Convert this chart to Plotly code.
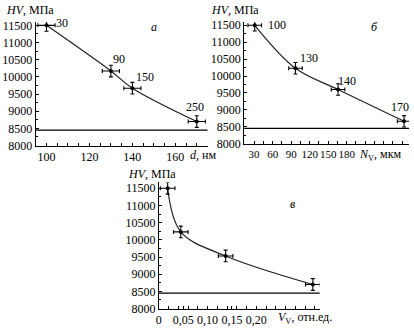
import plotly.graph_objects as go

# --- data -------------------------------------------------------------
# panel а: hardness vs grain size d (nm)
d_nm = [100, 130, 140, 170]
hv_a = [11500, 10170, 9670, 8700]
lbl_a = ["30", "90", "150", "250"]
dx_a = [4, 4, 4, 4]

# panel б: hardness vs N_V (mkm)
n_v = [31, 97, 166, 273]
hv_b = [11500, 10230, 9600, 8660]
lbl_b = ["100", "130", "140", "170"]
dx_b = [11, 11, 11, 11]

# panel в: hardness vs volume fraction V_V
v_v = [0.018, 0.045, 0.137, 0.316]
hv_c = [11500, 10230, 9530, 8700]
dx_c = [0.015, 0.015, 0.015, 0.015]

dy = [170, 170, 170, 170]
hv_base = 8450

y_ticks = [8000, 8500, 9000, 9500, 10000, 10500, 11000, 11500]
xa_ticks = [100, 120, 140, 160]
xb_ticks = [30, 60, 90, 120, 150, 180]
xc_ticks = [0, 0.05, 0.10, 0.15, 0.20]
xc_text = ["0", "0,05", "0,10", "0,15", "0,20"]

FONT = "Liberation Serif, Times New Roman, serif"
W, H = 414, 333

fig = go.Figure()


def add_panel(xs, ys, dxs, xa, ya):
    fig.add_trace(go.Scatter(
        x=xs, y=ys, mode="lines", line=dict(color="#222", width=1.2, shape="spline", smoothing=1.0),
        xaxis=xa, yaxis=ya, showlegend=False, hoverinfo="skip"))
    fig.add_trace(go.Scatter(
        x=xs, y=ys, mode="markers", marker=dict(color="black", size=4),
        error_x=dict(type="data", array=dxs, color="black", thickness=1.1, width=2),
        error_y=dict(type="data", array=dy, color="black", thickness=1.1, width=2),
        xaxis=xa, yaxis=ya, showlegend=False))


add_panel(d_nm, hv_a, dx_a, "x", "y")
add_panel(n_v, hv_b, dx_b, "x2", "y2")
add_panel(v_v, hv_c, dx_c, "x3", "y3")

axis_common = dict(showline=True, linecolor="black", linewidth=1, ticks="inside",
                   ticklen=3, tickcolor="black", showgrid=False, zeroline=False,
                   tickangle=0, tickfont=dict(family=FONT, size=12, color="black"))


def xaxis(domain, rng, tickvals, ticktext, minor_dtick, anchor, size=12):
    return dict(axis_common, domain=domain, range=rng, tickmode="array",
                tickvals=tickvals, ticktext=ticktext, anchor=anchor,
                tickfont=dict(family=FONT, size=size, color="black"),
                minor=dict(dtick=minor_dtick, tick0=0, ticks="inside", ticklen=3,
                           tickcolor="black", showgrid=False))


def yaxis(domain, rng, anchor):
    return dict(axis_common, domain=domain, range=rng, tickmode="array",
                tickvals=y_ticks, ticktext=[str(v) for v in y_ticks], anchor=anchor,
                minor=dict(dtick=250, tick0=0, ticks="inside", ticklen=2,
                           tickcolor="black", showgrid=False))


fig.update_layout(
    width=W, height=H, margin=dict(l=0, r=0, t=0, b=0),
    paper_bgcolor="white", plot_bgcolor="white",
    font=dict(family=FONT, size=12, color="black"),
    xaxis=xaxis([33 / W, 206 / W], [95, 175], xa_ticks, [str(v) for v in xa_ticks], 5, "y"),
    yaxis=yaxis([1 - 147 / H, 1 - 19.5 / H], [8000, 11600], "x"),
    xaxis2=xaxis([243 / W, 409 / W], [14, 281], xb_ticks, [str(v) for v in xb_ticks], 15, "y2", 11),
    yaxis2=yaxis([1 - 145 / H, 1 - 19.5 / H], [8000, 11600], "x2"),
    xaxis3=xaxis([157 / W, 319 / W], [0, 0.33], xc_ticks, xc_text, 0.02, "y3"),
    yaxis3=yaxis([1 - 315 / H, 1 - 185 / H], [8000, 11670], "x3"),
)

# baseline hardness level in each panel
for xr, yr in (("x", "y"), ("x2", "y2"), ("x3", "y3")):
    fig.add_shape(type="line", xref=f"{xr} domain", yref=yr, x0=0, x1=1,
                  y0=hv_base, y1=hv_base, line=dict(color="black", width=1.2))

ann = []
txt_font = dict(family=FONT, size=12, color="black")

# point labels
for x, y, t, sx, sy in zip(d_nm, hv_a, lbl_a, [16, 8, 13, -2], [2, 12, 11, 15]):
    ann.append(dict(x=x, y=y, xref="x", yref="y", text=t, showarrow=False,
                    xshift=sx, yshift=sy, font=txt_font))
for x, y, t, sx, sy in zip(n_v, hv_b, lbl_b, [22, 14, 9, -4], [0, 10, 9, 14]):
    ann.append(dict(x=x, y=y, xref="x2", yref="y2", text=t, showarrow=False,
                    xshift=sx, yshift=sy, font=txt_font))


def paper_text(px, py, text, anchor="left"):
    ann.append(dict(x=px / W, y=1 - py / H, xref="paper", yref="paper", text=text,
                    showarrow=False, xanchor=anchor, yanchor="middle", font=txt_font))


# axis titles
paper_text(1, 7, "<i>HV</i>, МПа")
paper_text(208, 7, "<i>HV</i>, МПа")
paper_text(124, 176, "<i>HV</i>, МПа")
paper_text(186, 157, "<i>d</i>, нм")
paper_text(357, 157, "<i>N</i><sub>V</sub>, мкм")
paper_text(275, 325, "<i>V</i><sub>V</sub>, отн.ед.")

# panel letters
paper_text(152, 25, "<i>а</i>", "center")
paper_text(374, 25, "<i>б</i>", "center")
paper_text(292, 207, "<i>в</i>", "center")

fig.update_layout(annotations=ann)

fig.write_html("out.html")
